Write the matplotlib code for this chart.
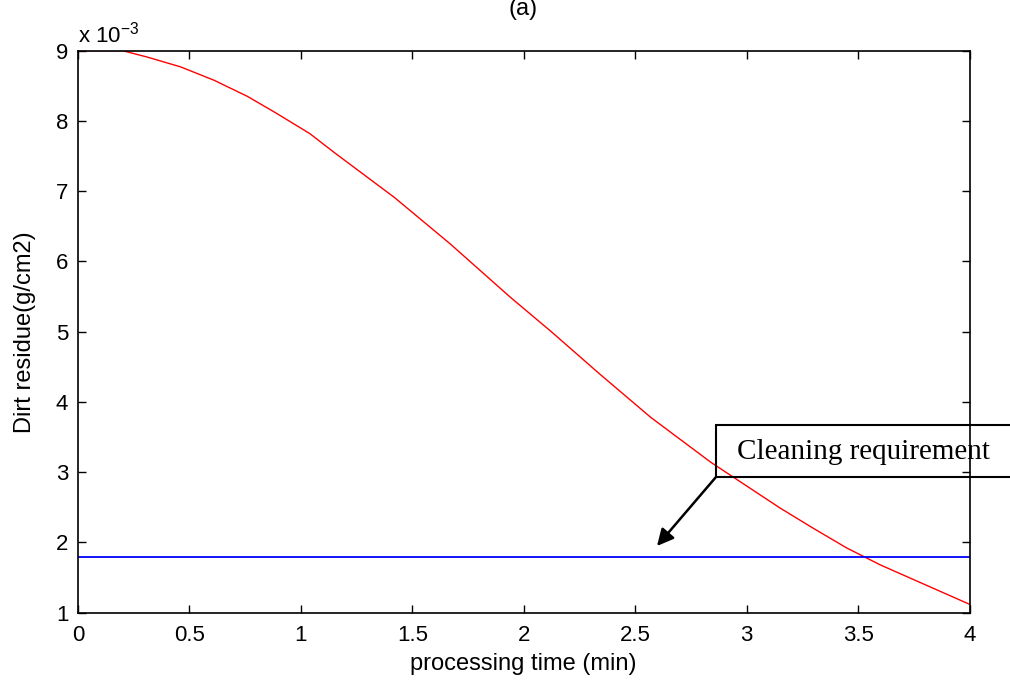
import matplotlib
matplotlib.use("Agg")
import matplotlib.pyplot as plt
from matplotlib.patches import Rectangle, FancyArrowPatch

# Data
time_min = [0.0, 0.20, 0.31, 0.46, 0.61, 0.76, 0.89, 1.04, 1.15, 1.42, 1.67, 1.94,
            2.12, 2.34, 2.57, 2.84, 3.15, 3.30, 3.45, 3.60, 3.75, 3.90, 4.00]
dirt_residue = [9.00, 9.00, 8.91, 8.77, 8.58, 8.35, 8.11, 7.82, 7.55, 6.91, 6.25, 5.49,
                5.01, 4.40, 3.78, 3.14, 2.49, 2.20, 1.92, 1.68, 1.47, 1.26, 1.12]
requirement_x = [0.0, 4.0]
requirement_y = [1.8, 1.8]
x_ticks = [0, 0.5, 1, 1.5, 2, 2.5, 3, 3.5, 4]
x_tick_labels = ["0", "0.5", "1", "1.5", "2", "2.5", "3", "3.5", "4"]
y_ticks = [1, 2, 3, 4, 5, 6, 7, 8, 9]
y_tick_labels = ["1", "2", "3", "4", "5", "6", "7", "8", "9"]

plt.rcParams['font.family'] = ['Liberation Sans', 'DejaVu Sans']

W, H = 1010, 684
fig = plt.figure(figsize=(W / 100, H / 100), dpi=100)
ax = fig.add_axes([78 / W, 1 - 612.7 / H, (969.5 - 78) / W, (612.7 - 50.7) / H])

ax.plot(time_min, dirt_residue, color=(1, 0, 0), lw=1.0)
ax.plot(requirement_x, requirement_y, color=(0, 0, 1), lw=1.3)

ax.set_xlim(0, 4)
ax.set_ylim(1, 9)
ax.set_xticks(x_ticks)
ax.set_xticklabels(x_tick_labels)
ax.set_yticks(y_ticks)
ax.set_yticklabels(y_tick_labels)
ax.tick_params(direction='in', length=6, width=1.0, top=True, right=True,
               labelsize=16, colors='black')
ax.tick_params(axis='x', pad=9)
ax.tick_params(axis='y', pad=7)
for s in ax.spines.values():
    s.set_linewidth(1.2)

ax.set_xlabel("processing time (min)", fontsize=17)
ax.set_ylabel("Dirt residue(g/cm2)", fontsize=17)
ax.xaxis.set_label_coords(0.5, -(664 - 612.7) / (612.7 - 50.7), transform=ax.transAxes)
ax.xaxis.label.set_va('center')
ax.yaxis.set_label_coords(-(78 - 25) / (969.5 - 78), 0.5, transform=ax.transAxes)
ax.yaxis.label.set_va('center')

ax.text(0.0, 1.005, r"x 10$^{\mathregular{-3}}$", transform=ax.transAxes,
        fontsize=16, ha='left', va='bottom')

fig.text(523 / W, 1 - 9 / H, "(a)", fontsize=17, ha='center', va='center')

# Annotation box (unfilled, extends past the right edge)
bx0, by0, bx1, by1 = 716, 425, 1015, 477
rect = Rectangle((bx0 / W, 1 - by1 / H), (bx1 - bx0) / W, (by1 - by0) / H,
                 transform=fig.transFigure, fill=False,
                 edgecolor='black', lw=1.5, clip_on=False, zorder=5)
fig.patches.append(rect)
fig.text(737 / W, 1 - 452 / H, "Cleaning requirement", fontsize=21,
         family='Liberation Serif', ha='left', va='center', zorder=6)

fig.add_artist(FancyArrowPatch(
    (bx0 / W, 1 - by1 / H), (657 / W, 1 - 546 / H),
    transform=fig.transFigure, arrowstyle='-|>,head_length=10,head_width=5',
    color='black', lw=1.8, mutation_scale=1, shrinkA=0, shrinkB=0, zorder=6))

fig.savefig("out.png", dpi=100)
